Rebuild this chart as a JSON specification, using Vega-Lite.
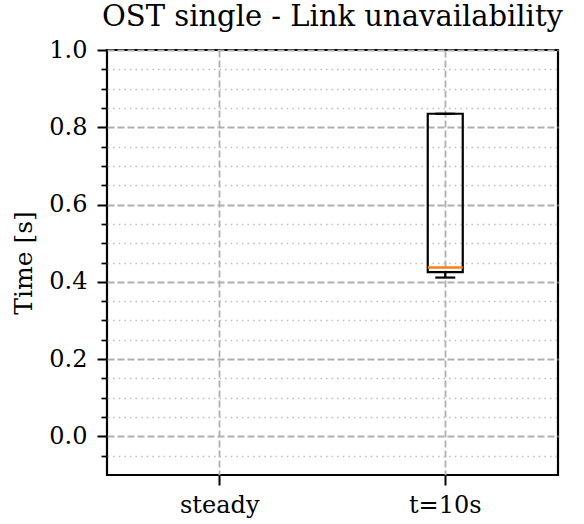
{
  "$schema": "https://vega.github.io/schema/vega-lite/v6.json",
  "width": 451,
  "height": 425,
  "autosize": {"type": "none"},
  "padding": {"left": 107, "top": 50, "right": 26, "bottom": 49},
  "background": "white",
  "config": {
    "view": {"stroke": "black", "strokeWidth": 2.2},
    "font": "DejaVu Serif"
  },
  "title": {
    "text": "OST single - Link unavailability",
    "fontSize": 29,
    "font": "DejaVu Serif",
    "fontWeight": "normal",
    "color": "black",
    "anchor": "middle",
    "offset": 6
  },
  "data": {
    "values": [
      {"case": "steady"},
      {"case": "t=10s", "lower": 0.411, "q1": 0.425, "median": 0.437, "q3": 0.835, "upper": 0.835}
    ]
  },
  "encoding": {
    "x": {
      "field": "case",
      "type": "nominal",
      "sort": null,
      "scale": {"domain": ["steady", "t=10s"], "paddingInner": 0, "paddingOuter": 0},
      "axis": {
        "title": null,
        "labelAngle": 0,
        "labelFont": "DejaVu Serif",
        "labelFontSize": 24,
        "labelColor": "black",
        "labelPadding": 8,
        "tickColor": "black",
        "tickSize": 10,
        "tickWidth": 2,
        "domain": false,
        "grid": true,
        "gridColor": "#b0b0b0",
        "gridWidth": 1.8,
        "gridDash": [7, 3],
        "bandPosition": 0.5
      }
    }
  },
  "resolve": {"axis": {"y": "independent"}},
  "layer": [
    {
      "mark": {"type": "rule", "color": "black", "strokeWidth": 2.2},
      "encoding": {
        "y": {
          "field": "lower",
          "type": "quantitative",
          "scale": {"domain": [-0.1, 1.0], "nice": false, "zero": false},
          "axis": {
            "orient": "left",
            "values": [-0.05, 0.05, 0.1, 0.15, 0.25, 0.3, 0.35, 0.45, 0.5, 0.55, 0.65, 0.7, 0.75, 0.85, 0.9, 0.95],
            "labels": false,
            "title": null,
            "domain": false,
            "tickColor": "black",
            "tickSize": 6,
            "tickWidth": 1.7,
            "grid": true,
            "gridColor": "#c0c0c0",
            "gridWidth": 1.6,
            "gridDash": [1.6, 4]
          }
        },
        "y2": {"field": "q1"}
      }
    },
    {
      "mark": {"type": "bar", "width": 35, "fill": null, "fillOpacity": 0, "stroke": "black", "strokeWidth": 2.2},
      "encoding": {
        "y": {
          "field": "q1",
          "type": "quantitative",
          "axis": {
            "orient": "left",
            "values": [0, 0.2, 0.4, 0.6, 0.8, 1.0],
            "format": ".1f",
            "title": "Time [s]",
            "titleFont": "DejaVu Serif",
            "titleFontSize": 25,
            "titleFontWeight": "normal",
            "titleColor": "black",
            "titlePadding": 12,
            "labelFont": "DejaVu Serif",
            "labelFontSize": 24,
            "labelColor": "black",
            "labelPadding": 10,
            "domain": false,
            "tickColor": "black",
            "tickSize": 10,
            "tickWidth": 2,
            "grid": true,
            "gridColor": "#b0b0b0",
            "gridWidth": 1.8,
            "gridDash": [7, 3]
          }
        },
        "y2": {"field": "q3"}
      }
    },
    {
      "mark": {"type": "tick", "color": "black", "size": 20, "thickness": 2.2, "opacity": 1},
      "encoding": {"y": {"field": "lower", "type": "quantitative", "axis": null}}
    },
    {
      "mark": {"type": "tick", "color": "black", "size": 20, "thickness": 2.2, "opacity": 1},
      "encoding": {"y": {"field": "upper", "type": "quantitative", "axis": null}}
    },
    {
      "mark": {"type": "tick", "color": "#ff7f0e", "size": 35, "thickness": 2.4, "opacity": 1},
      "encoding": {"y": {"field": "median", "type": "quantitative", "axis": null}}
    }
  ]
}
